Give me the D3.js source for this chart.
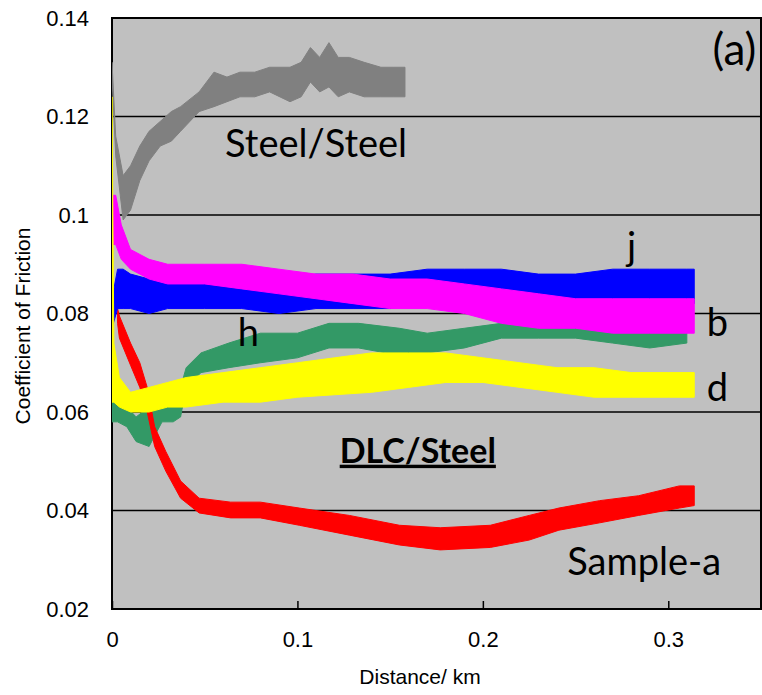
<!DOCTYPE html>
<html>
<head>
<meta charset="utf-8">
<script src="https://cdn.jsdelivr.net/npm/d3@7"></script>
<style>
    body { margin: 0; background: #fff; }
    svg { display: block; }
</style>
</head>
<body>
<div id="chart"></div>
<script>
// --- data (distance in km, friction band low/high)
const xTicks = [0, 0.1, 0.2, 0.3];
const yTicks = [0.02, 0.04, 0.06, 0.08, 0.1, 0.12, 0.14];
const yTickLabels = ['0.02', '0.04', '0.06', '0.08', '0.1', '0.12', '0.14'];

const steelDist = [0, 0.002, 0.006, 0.010, 0.015, 0.020, 0.026, 0.032, 0.037, 0.047, 0.055, 0.062, 0.069, 0.077, 0.085, 0.096, 0.102, 0.107, 0.112, 0.117, 0.122, 0.128, 0.136, 0.145, 0.152, 0.158];
const steelLo = [0.128, 0.112, 0.099, 0.101, 0.107, 0.111, 0.114, 0.115, 0.117, 0.121, 0.122, 0.123, 0.124, 0.124, 0.125, 0.123, 0.124, 0.127, 0.125, 0.126, 0.124, 0.125, 0.124, 0.124, 0.124, 0.124];
const steelHi = [0.131, 0.116, 0.108, 0.110, 0.114, 0.117, 0.119, 0.121, 0.122, 0.125, 0.129, 0.128, 0.129, 0.129, 0.130, 0.130, 0.131, 0.134, 0.132, 0.135, 0.132, 0.132, 0.131, 0.130, 0.130, 0.130];

const jDist = [0, 0.003, 0.006, 0.01, 0.02, 0.03, 0.05, 0.07, 0.09, 0.11, 0.13, 0.15, 0.17, 0.19, 0.21, 0.23, 0.25, 0.27, 0.29, 0.31, 0.314];
const jLo = [0.077, 0.081, 0.081, 0.081, 0.080, 0.081, 0.081, 0.081, 0.080, 0.081, 0.081, 0.081, 0.082, 0.082, 0.083, 0.083, 0.083, 0.083, 0.082, 0.082, 0.082];
const jHi = [0.083, 0.089, 0.089, 0.088, 0.087, 0.087, 0.086, 0.086, 0.087, 0.088, 0.088, 0.088, 0.089, 0.089, 0.089, 0.088, 0.088, 0.089, 0.089, 0.089, 0.089];

const bDist = [0, 0.002, 0.005, 0.01, 0.02, 0.03, 0.05, 0.07, 0.09, 0.11, 0.13, 0.15, 0.17, 0.19, 0.21, 0.23, 0.25, 0.27, 0.29, 0.31, 0.314];
const bLo = [0.094, 0.094, 0.091, 0.089, 0.087, 0.086, 0.086, 0.085, 0.084, 0.083, 0.082, 0.081, 0.081, 0.080, 0.078, 0.077, 0.077, 0.076, 0.076, 0.076, 0.076];
const bHi = [0.104, 0.104, 0.098, 0.093, 0.091, 0.090, 0.090, 0.090, 0.089, 0.088, 0.088, 0.087, 0.087, 0.086, 0.085, 0.084, 0.083, 0.083, 0.083, 0.083, 0.083];

const hDist = [0, 0.003, 0.008, 0.013, 0.020, 0.027, 0.033, 0.037, 0.040, 0.048, 0.063, 0.080, 0.100, 0.117, 0.133, 0.155, 0.17, 0.19, 0.21, 0.23, 0.25, 0.27, 0.29, 0.31];
const hLo = [0.058, 0.058, 0.057, 0.054, 0.053, 0.058, 0.058, 0.059, 0.065, 0.068, 0.069, 0.070, 0.071, 0.073, 0.073, 0.0715, 0.072, 0.073, 0.075, 0.075, 0.075, 0.074, 0.073, 0.074];
const hHi = [0.065, 0.063, 0.061, 0.059, 0.061, 0.061, 0.061, 0.065, 0.069, 0.072, 0.074, 0.076, 0.076, 0.078, 0.078, 0.077, 0.076, 0.077, 0.078, 0.078, 0.078, 0.078, 0.078, 0.078];

const dDist = [0, 0.001, 0.004, 0.010, 0.020, 0.030, 0.040, 0.060, 0.080, 0.100, 0.120, 0.140, 0.160, 0.180, 0.200, 0.220, 0.240, 0.260, 0.280, 0.300, 0.314];
const dLo = [0.062, 0.062, 0.061, 0.060, 0.060, 0.061, 0.061, 0.062, 0.062, 0.063, 0.0635, 0.064, 0.065, 0.066, 0.066, 0.065, 0.064, 0.063, 0.063, 0.063, 0.063];
const dHi = [0.124, 0.074, 0.067, 0.064, 0.065, 0.066, 0.067, 0.068, 0.069, 0.070, 0.071, 0.072, 0.072, 0.072, 0.071, 0.070, 0.069, 0.069, 0.068, 0.068, 0.068];

const aDist = [0.003, 0.004, 0.010, 0.015, 0.019, 0.023, 0.029, 0.037, 0.047, 0.064, 0.080, 0.101, 0.128, 0.155, 0.177, 0.204, 0.225, 0.241, 0.263, 0.284, 0.306, 0.314];
const aLo = [0.078, 0.075, 0.0695, 0.065, 0.060, 0.053, 0.048, 0.0425, 0.0395, 0.0385, 0.0385, 0.037, 0.035, 0.033, 0.032, 0.0325, 0.034, 0.036, 0.0375, 0.039, 0.0405, 0.041];
const aHi = [0.081, 0.0795, 0.074, 0.070, 0.065, 0.057, 0.052, 0.046, 0.0425, 0.0417, 0.0417, 0.0405, 0.039, 0.037, 0.0365, 0.037, 0.039, 0.0405, 0.042, 0.043, 0.045, 0.045];

// drawing order = back to front
const series = [
    {name: 'Steel/Steel', color: '#808080', dist: steelDist, lo: steelLo, hi: steelHi},
    {name: 'h', color: '#339966', dist: hDist, lo: hLo, hi: hHi},
    {name: 'Sample-a', color: '#ff0000', dist: aDist, lo: aLo, hi: aHi},
    {name: 'j', color: '#0000ff', dist: jDist, lo: jLo, hi: jHi},
    {name: 'b', color: '#ff00ff', dist: bDist, lo: bLo, hi: bHi},
    {name: 'd', color: '#ffff00', dist: dDist, lo: dLo, hi: dHi}
];

const width = 762;
const height = 695;
const margin = {top: 18, right: 1, bottom: 86, left: 112};
const w = width - margin.left - margin.right;
const h = height - margin.top - margin.bottom;

const svg = d3.select('#chart')
    .append('svg')
    .attr('width', width)
    .attr('height', height);

// --- 1. scales
const x = d3.scaleLinear().domain([0, 0.35]).range([0, w]);
const y = d3.scaleLinear().domain([0.02, 0.14]).range([h, 0]);

const g = svg.append('g')
    .attr('transform', `translate(${margin.left},${margin.top})`);

// --- 2. plot background + grid
g.append('rect')
    .attr('width', w).attr('height', h)
    .attr('fill', '#c0c0c0');

g.append('g')
    .selectAll('line')
    .data(yTicks.slice(1, -1))
    .enter().append('line')
    .attr('x1', 0).attr('x2', w)
    .attr('y1', d => y(d)).attr('y2', d => y(d))
    .attr('stroke', '#000').attr('stroke-width', 1.6);

// frame
g.append('rect')
    .attr('width', w).attr('height', h)
    .attr('fill', 'none')
    .attr('stroke', '#000').attr('stroke-width', 2);

// --- 3. axes
const gx = g.append('g').attr('transform', `translate(0,${h})`);
gx.call(d3.axisBottom(x).tickValues(xTicks).tickSizeInner(-8).tickSizeOuter(0).tickPadding(22)
    .tickFormat(d => d === 0 ? '0' : d3.format('.1f')(d)));
gx.select('.domain').remove();
gx.selectAll('.tick line').attr('stroke', '#000').attr('stroke-width', 1.5);
gx.selectAll('.tick text')
    .attr('font-family', 'Liberation Sans, Arial, sans-serif')
    .attr('font-size', 22).attr('fill', '#000');

const gy = g.append('g');
gy.call(d3.axisLeft(y).tickValues(yTicks).tickSize(0).tickPadding(23)
    .tickFormat((d, i) => yTickLabels[i]));
gy.select('.domain').remove();
gy.selectAll('.tick text')
    .attr('font-family', 'Liberation Sans, Arial, sans-serif')
    .attr('font-size', 22).attr('fill', '#000');

// --- 4. friction bands
g.append('clipPath').attr('id', 'plot-clip')
    .append('rect').attr('width', w).attr('height', h);

const area = d3.area()
    .x(d => x(d.dist))
    .y0(d => y(d.lo))
    .y1(d => y(d.hi));

g.append('g')
    .attr('clip-path', 'url(#plot-clip)')
    .selectAll('path')
    .data(series)
    .enter().append('path')
    .attr('d', s => area(s.dist.map((v, i) => ({dist: v, lo: s.lo[i], hi: s.hi[i]}))))
    .attr('fill', s => s.color)
    .attr('stroke', s => s.color)
    .attr('stroke-width', 1)
    .attr('stroke-linejoin', 'round');

// --- 5. annotations
const labelFont = 'Lato, Calibri, sans-serif';
const notes = [
    {text: '(a)', x: 0.3475, y: 0.1305, size: 44, anchor: 'end'},
    {text: 'Steel/Steel', x: 0.061, y: 0.1117, size: 38, anchor: 'start'},
    {text: 'j', x: 0.2778, y: 0.0909, size: 38, anchor: 'start'},
    {text: 'b', x: 0.3207, y: 0.0755, size: 38, anchor: 'start'},
    {text: 'd', x: 0.3207, y: 0.0623, size: 38, anchor: 'start'},
    {text: 'h', x: 0.0678, y: 0.0733, size: 38, anchor: 'start'},
    {text: 'Sample-a', x: 0.2455, y: 0.0270, size: 38, anchor: 'start'}
];
g.append('g')
    .selectAll('text')
    .data(notes)
    .enter().append('text')
    .attr('x', d => x(d.x))
    .attr('y', d => y(d.y))
    .attr('text-anchor', d => d.anchor)
    .attr('font-family', labelFont)
    .attr('font-size', d => d.size)
    .attr('fill', '#000')
    .text(d => d.text);

g.append('text')
    .attr('x', x(0.1228))
    .attr('y', y(0.0497))
    .attr('font-family', labelFont)
    .attr('font-size', 34)
    .attr('font-weight', 'bold')
    .attr('text-decoration', 'underline')
    .attr('fill', '#000')
    .text('DLC/Steel');

// --- 6. axis titles
svg.append('text')
    .attr('x', 420).attr('y', 684)
    .attr('text-anchor', 'middle')
    .attr('font-family', 'Liberation Sans, Arial, sans-serif')
    .attr('font-size', 21)
    .text('Distance/ km');

svg.append('text')
    .attr('transform', 'translate(30,326) rotate(-90)')
    .attr('text-anchor', 'middle')
    .attr('font-family', 'Liberation Sans, Arial, sans-serif')
    .attr('font-size', 21)
    .text('Coefficient of Friction');
</script>
</body>
</html>
